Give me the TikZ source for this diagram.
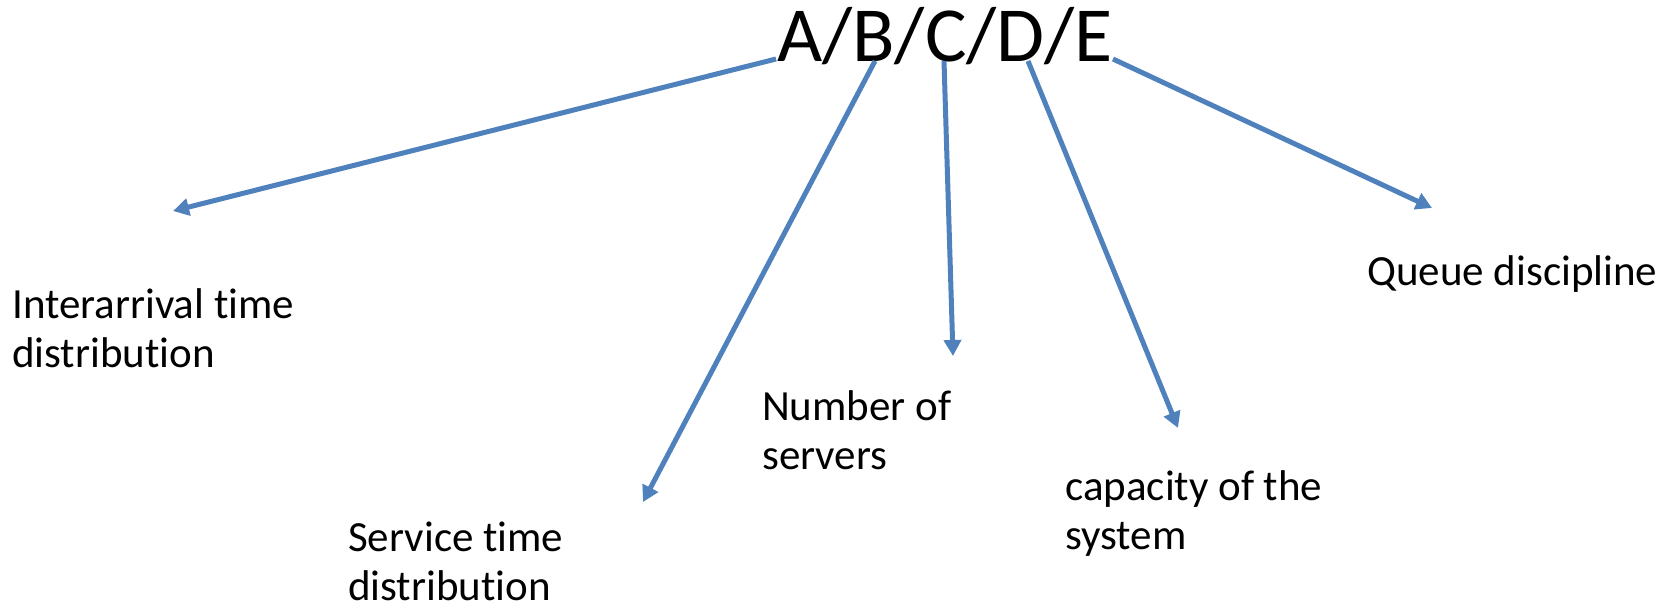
\documentclass[tikz,border=0pt]{standalone}
\usepackage{fontspec}
\setmainfont{Carlito}[Ligatures=NoCommon]
\usetikzlibrary{arrows.meta}
\definecolor{linkblue}{RGB}{79,129,189}
\tikzset{
	lbl/.style={anchor=base west,inner sep=0pt,align=left,font=\fontsize{43}{49}\selectfont},
	pointer/.style={draw=linkblue,line width=5pt,-{Triangle[length=16pt,width=17pt]}}
}

\begin{document}
\begin{tikzpicture}[x=1pt,y=-1pt]
	\useasboundingbox(0,0)rectangle(1662,612);
	\node[anchor=base west,inner sep=0pt,font=\fontsize{78}{90}\selectfont](kendall)at(777,62){A/B/C/D/E};
	% where each arrow leaves the notation
	\coordinate(srcA)at(776,59);
	\coordinate(srcB)at(875,61);
	\coordinate(srcC)at(944,61);
	\coordinate(srcD)at(1028,61);
	\coordinate(srcE)at(1113,59);
	% and where it stops
	\coordinate(tipA)at(173,211);
	\coordinate(tipB)at(643,502);
	\coordinate(tipC)at(953,356);
	\coordinate(tipD)at(1178,428);
	\coordinate(tipE)at(1432,208);
	\foreach \k in {A,B,C,D,E}
		\draw[pointer](src\k)--(tip\k);
	% base of a two-line label is its second line
	\node[lbl](arrival)at(12,367){Interarrival time\\distribution};
	\node[lbl](service)at(348,600){Service time\\distribution};
	\node[lbl](servers)at(762,469){Number of\\servers};
	\node[lbl](capacity)at(1065,549){capacity of the\\system};
	\node[lbl](discipline)at(1367,286){Queue discipline};
\end{tikzpicture}
\end{document}
